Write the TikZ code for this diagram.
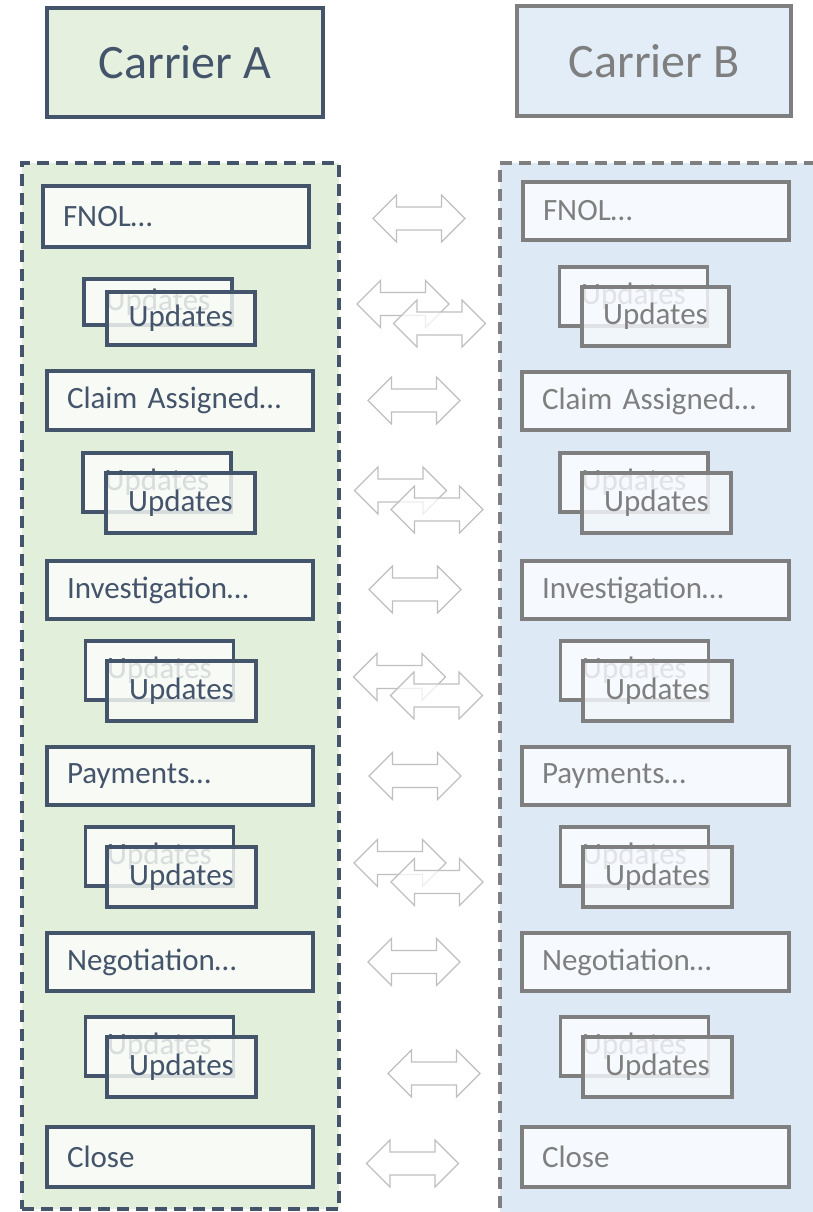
\documentclass[tikz,border=0pt]{standalone}
\usepackage{fontspec}
\setmainfont{Carlito}
\definecolor{slate}{HTML}{44546A}
\definecolor{laneGreen}{HTML}{E2EFDA}
\definecolor{headGreen}{HTML}{E5F0DF}
\definecolor{boxGreen}{HTML}{F8FAF6}
\definecolor{greyline}{HTML}{7F7F7F}
\definecolor{laneBlue}{HTML}{DDEAF6}
\definecolor{headBlue}{HTML}{E3EDF7}
\definecolor{boxBlue}{HTML}{F6F9FD}
\definecolor{arrowgrey}{HTML}{BFBFBF}
\begin{document}
\begin{tikzpicture}[x=1pt,y=-1pt,
  header/.style={line width=3.3pt, inner sep=0pt, minimum width=275pt, minimum height=109pt,
    font=\fontsize{48}{58}\selectfont},
  headerA/.style={header, draw=slate, fill=headGreen, text=slate},
  headerB/.style={header, draw=greyline, fill=headBlue, text=greyline},
  lane/.style={line width=3.4pt, dash pattern=on 12pt off 7pt, inner sep=0pt},
  laneA/.style={lane, draw=slate, fill=laneGreen},
  laneB/.style={lane, draw=greyline, fill=laneBlue},
  stage/.style={line width=3.3pt, minimum width=266pt, minimum height=59pt,
    text width=226pt, inner xsep=20pt, inner ysep=0pt, align=left,
    font=\fontsize{31}{36}\selectfont},
  stageA/.style={stage, draw=slate, fill=boxGreen, text=slate},
  stageB/.style={stage, draw=greyline, fill=boxBlue, text=greyline},
  upd/.style={line width=3.3pt, minimum width=148pt, minimum height=59pt, inner sep=0pt,
    font=\fontsize{31}{36}\selectfont},
  updA/.style={upd, draw=slate, fill=boxGreen, text=slate},
  updB/.style={upd, draw=greyline, fill=boxBlue, text=greyline},
  upfront/.style={fill opacity=0.82, text opacity=1},
  arrowline/.style={draw=arrowgrey, line width=1.2pt, fill=white},
  arrowfront/.style={fill opacity=0.75},
  pics/xarrow/.style={code={
    \draw[arrowline,#1] (-46,0) -- (-22.5,-23.5) -- (-22.5,-11.5) -- (22.5,-11.5)
      -- (22.5,-23.5) -- (46,0) -- (22.5,23.5) -- (22.5,11.5) -- (-22.5,11.5)
      -- (-22.5,23.5) -- cycle;}},
  pics/xarrow/.default={}
]
\useasboundingbox (0,0) rectangle (813,1212);
\clip (0,0) rectangle (813,1212);

% swim lanes
\node[laneA, minimum width=317pt, minimum height=1046pt] (laneA) at (180.5,686) {};
\node[laneB, minimum width=340pt, minimum height=1080pt] (laneB) at (670,703) {};

% headers
\node[headerA, minimum width=276pt] (carA) at (185,62.5) {Carrier A};
\node[headerB, minimum width=274pt, minimum height=110pt] (carB) at (654,61) {Carrier B};

% stages, carrier A
\node[stageA, minimum height=61pt] (fnolA) at (176,216.5) {FNOL…};
\node[stageA] (claimA) at (180,400.5) {Claim Assigned…};
\node[stageA, minimum height=58pt] (invA) at (180,590) {Investigation…};
\node[stageA, minimum height=58pt] (payA) at (180,776) {Payments…};
\node[stageA, minimum height=58pt] (negA) at (180,962) {Negotiation…};
\node[stageA, minimum height=60pt] (closeA) at (180,1157) {Close};

% stages, carrier B
\node[stageB, minimum height=58pt] (fnolB) at (656,211) {FNOL…};
\node[stageB, minimum width=267pt, text width=227pt, minimum height=58pt] (claimB) at (655.5,401) {Claim Assigned…};
\node[stageB, minimum width=267pt, text width=227pt, minimum height=58pt] (invB) at (655.5,590) {Investigation…};
\node[stageB, minimum width=267pt, text width=227pt, minimum height=58pt] (payB) at (655.5,776) {Payments…};
\node[stageB, minimum width=267pt, text width=227pt, minimum height=58pt] (negB) at (655.5,962) {Negotiation…};
\node[stageB, minimum width=267pt, text width=227pt, minimum height=60pt] (closeB) at (655.5,1157) {Close};

% update stacks, carrier A
\node[updA, minimum height=46pt] (u1Aback) at (158,302) {Updates};
\node[updA, upfront, minimum height=53pt] (u1A) at (181,318.5) {Updates};
\node[updA] (u2Aback) at (157,482.5) {Updates};
\node[updA, upfront, minimum width=149pt, minimum height=60pt] (u2A) at (180.5,503) {Updates};
\node[updA] (u3Aback) at (159.5,670.5) {Updates};
\node[updA, upfront, minimum width=149pt, minimum height=60pt] (u3A) at (181.5,691) {Updates};
\node[updA] (u4Aback) at (159.5,856.5) {Updates};
\node[updA, upfront, minimum width=149pt, minimum height=60pt] (u4A) at (181.5,877) {Updates};
\node[updA] (u5Aback) at (159.5,1046.5) {Updates};
\node[updA, upfront, minimum width=149pt, minimum height=60pt] (u5A) at (181.5,1067) {Updates};

% update stacks, carrier B
\node[updB] (u1Bback) at (633.5,296.5) {Updates};
\node[updB, upfront, minimum width=147pt] (u1B) at (655.5,316.5) {Updates};
\node[updB] (u2Bback) at (634,482.5) {Updates};
\node[updB, upfront, minimum width=149pt, minimum height=60pt] (u2B) at (656.5,503) {Updates};
\node[updB] (u3Bback) at (634.5,670.5) {Updates};
\node[updB, upfront, minimum width=149pt, minimum height=60pt] (u3B) at (657.5,691) {Updates};
\node[updB] (u4Bback) at (634.5,856.5) {Updates};
\node[updB, upfront, minimum width=149pt, minimum height=60pt] (u4B) at (657.5,877) {Updates};
\node[updB] (u5Bback) at (634.5,1046.5) {Updates};
\node[updB, upfront, minimum width=149pt, minimum height=60pt] (u5B) at (657.5,1067) {Updates};

% exchange arrows between the carriers
\pic (xfnol) at (419,218.5) {xarrow};
\pic (xu1back) at (403,304) {xarrow};
\pic (xu1) at (439.5,323.5) {xarrow=arrowfront};
\pic (xclaim) at (414,400.5) {xarrow};
\pic (xu2back) at (400.5,490.5) {xarrow};
\pic (xu2) at (437,509.5) {xarrow=arrowfront};
\pic (xinv) at (415,589.5) {xarrow};
\pic (xu3back) at (399.5,677) {xarrow};
\pic (xu3) at (436.5,695.5) {xarrow=arrowfront};
\pic (xpay) at (415,776) {xarrow};
\pic (xu4back) at (400,863) {xarrow};
\pic (xu4) at (437,882) {xarrow=arrowfront};
\pic (xneg) at (414,962) {xarrow};
\pic (xu5) at (434,1073.5) {xarrow};
\pic (xclose) at (412.5,1163.5) {xarrow};
\end{tikzpicture}
\end{document}
